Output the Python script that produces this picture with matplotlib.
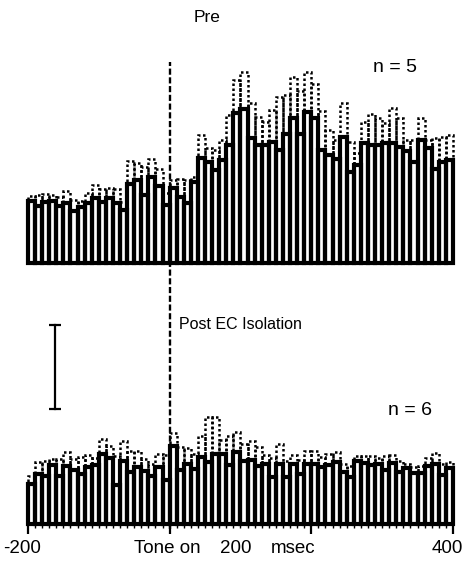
import numpy as np
import matplotlib.pyplot as plt

# ---- data: 10 ms bins from -200 to 400 ms (arbitrary rate units) ----
bin_start = -200
bin_ms = 10

pre_mean = [62, 57, 61, 62, 57, 60, 52, 56, 60, 65,
            61, 65, 60, 53, 79, 83, 68, 86, 77, 58,
            75, 66, 60, 81, 105, 101, 93, 103, 118, 150,
            154, 125, 118, 118, 121, 113, 129, 145, 129, 151,
            145, 113, 108, 104, 126, 91, 98, 120, 118, 118,
            120, 120, 116, 112, 101, 123, 115, 94, 101, 103]
pre_upper = [67, 68, 69, 68, 66, 72, 63, 62, 70, 78,
             74, 75, 74, 61, 102, 100, 96, 104, 94, 70,
             83, 84, 83, 86, 128, 115, 113, 123, 148, 183,
             191, 160, 146, 141, 153, 166, 168, 186, 172, 191,
             179, 152, 133, 123, 160, 121, 110, 141, 149, 145,
             140, 155, 145, 123, 123, 145, 123, 125, 126, 128]

post_mean = [40, 50, 48, 59, 48, 58, 54, 50, 57, 59,
             70, 66, 39, 63, 52, 57, 53, 48, 57, 44,
             78, 54, 60, 55, 67, 62, 70, 70, 59, 72,
             63, 64, 58, 60, 47, 60, 47, 60, 50, 60,
             60, 57, 59, 62, 52, 47, 63, 61, 59, 60,
             54, 61, 52, 56, 51, 51, 58, 60, 49, 56]
post_upper = [48, 62, 63, 65, 65, 72, 65, 67, 69, 66,
              85, 78, 68, 83, 73, 73, 65, 60, 70, 69,
              91, 77, 76, 70, 88, 107, 107, 84, 88, 92,
              80, 83, 77, 69, 66, 80, 63, 69, 64, 73,
              73, 67, 70, 72, 60, 58, 68, 68, 68, 66,
              68, 69, 63, 60, 57, 58, 66, 71, 60, 62]

tick_pos = [-200, 0, 200, 400]
# label text and where it sits along x (the scan has them off-centre)
tick_labels = ['-200', 'Tone on', '200', '400']
tick_label_x = [-208, -4, 93, 392]
unit_label = 'msec'
unit_label_x = 175

plt.rcParams['font.family'] = ['Liberation Sans', 'DejaVu Sans']

fig = plt.figure(figsize=(4.68, 5.61), dpi=100)
ax_top = fig.add_axes([0.0598, 0.5312, 0.9081, 0.3708])
ax_bot = fig.add_axes([0.0598, 0.0668, 0.9081, 0.3708])


def draw_psth(ax, mean, upper):
    mean = np.array(mean, dtype=float)
    upper = np.array(upper, dtype=float)
    left = bin_start + bin_ms * np.arange(len(mean))
    # dotted outline: mean + SE
    se_bars = ax.bar(left, upper - mean, width=bin_ms, bottom=mean, align='edge',
                     fill=False, edgecolor='black', linewidth=1.8,
                     linestyle=(0, (1, 1.0)), zorder=1)
    # solid histogram of the mean
    bars = ax.bar(left, mean, width=bin_ms, align='edge', facecolor='none',
                  edgecolor='black', linewidth=3.0, zorder=2)
    for p in list(bars) + list(se_bars):
        p.set_clip_on(False)
    ax.set_xlim(-200, 400)
    ax.set_ylim(0, 208)
    for s in ax.spines.values():
        s.set_visible(False)
    ax.set_yticks([])


draw_psth(ax_top, pre_mean, pre_upper)
draw_psth(ax_bot, post_mean, post_upper)

ax_top.set_xticks([])

ax_bot.set_xticks(tick_pos)
ax_bot.set_xticklabels([''] * len(tick_pos))
ax_bot.set_xticks(np.arange(-200, 401, bin_ms), minor=True)
ax_bot.tick_params(axis='x', which='major', length=7, width=1.6, color='black')
ax_bot.tick_params(axis='x', which='minor', length=3, width=1.0, color='black')
for x, lab in zip(tick_label_x, tick_labels):
    ax_bot.text(x, -25, lab, ha='center', va='center', fontsize=13.5, clip_on=False)
ax_bot.text(unit_label_x, -25, unit_label, ha='center', va='center', fontsize=13.5,
            clip_on=False)

# tone onset line running through both panels
ax_bot.plot([0, 0], [-5, 461], color='black', lw=1.7, ls=(0, (2.6, 1.1)),
            clip_on=False, zorder=5)

# scale bar
ax_bot.plot([-162, -162], [114.5, 198.5], color='black', lw=1.6, marker='_',
            ms=8, mew=1.6, clip_on=False)

fig.text(207 / 468, 1 - 17 / 561, 'Pre', ha='center', va='center', fontsize=12.5)
ax_top.text(318, 195, 'n = 5', ha='center', va='center', fontsize=14)
ax_bot.text(13, 199, 'Post EC Isolation', ha='left', va='center', fontsize=11.5)
ax_bot.text(339, 113, 'n = 6', ha='center', va='center', fontsize=14)

fig.savefig('out.png', dpi=100)
